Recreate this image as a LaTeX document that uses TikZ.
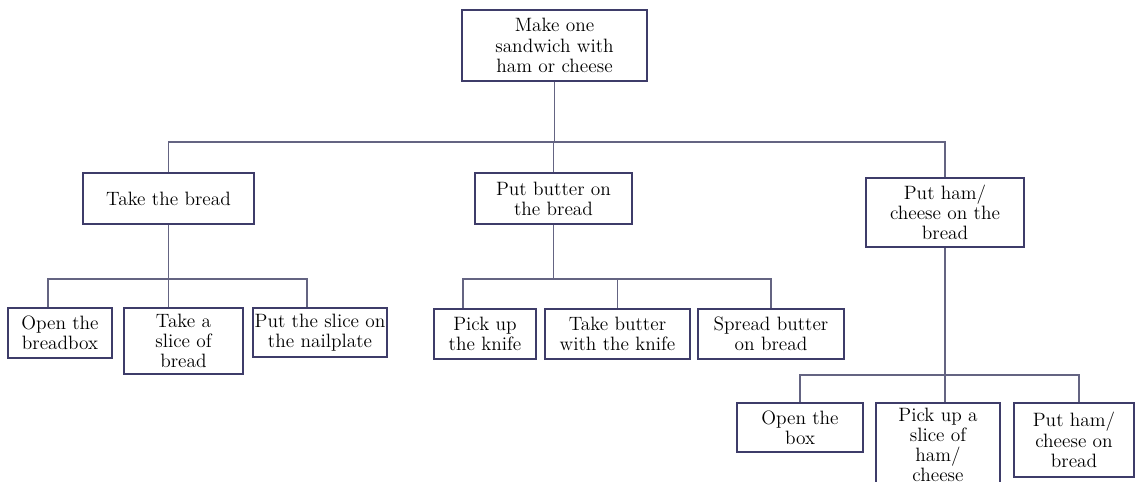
\documentclass[tikz,border=0pt]{standalone}
\usepackage{tikz}
\usetikzlibrary{positioning,calc}
\definecolor{boxline}{RGB}{62,60,105}
\definecolor{treeline}{RGB}{100,100,130}

\begin{document}
\begin{tikzpicture}[x=0.02cm, y=-0.02cm, font=\fontsize{11}{11.5}\selectfont]
    \tikzstyle{task}=[draw=boxline, line width=1.4pt, fill=white, align=center, inner sep=1pt]
    \tikzstyle{link}=[draw=treeline, line width=0.7pt]
    \tikzset{wh/.style 2 args={minimum width=#1*0.02cm, minimum height=#2*0.02cm}}

    \useasboundingbox (0,0) rectangle (1136,482);
    \clip (0,0) rectangle (1136,482);

    % Draw the main task
    \node[task, wh={185}{71}] (main) at (554.5,45.5) {Make one\\sandwich with\\ham or cheese};

    % Draw the sub tasks
    \node[task, wh={171}{51}] (bread) at (168.5,198.5) {Take the bread};
    \node[task, wh={157}{51}] (butter) at (553.5,198.5) {Put butter on\\the bread};
    \node[task, wh={158}{69}] (ham) at (945,212.5) {Put ham/\\cheese on the\\bread};

    % Draw the steps under each sub task
    \node[task, wh={104}{50}] (obb) at (60,333) {Open the\\breadbox};
    \node[task, wh={119}{66}] (slice) at (183.5,341) {Take a\\slice of\\bread};
    \node[task, wh={130}{49}] (nail) at (320,332.5) {Put the slice on\\the nailplate};

    \node[task, wh={102}{50}] (knife) at (485,334) {Pick up\\the knife};
    \node[task, wh={145}{50}] (take) at (617.5,334) {Take butter\\with the knife};
    \node[task, wh={146}{50}] (spread) at (771,334) {Spread butter\\on bread};

    \node[task, wh={126}{49}] (box) at (800,427.5) {Open the\\box};
    \node[task, wh={124}{84}] (pick) at (938,445) {Pick up a\\slice of\\ham/\\cheese};
    \node[task, wh={120}{74}] (put) at (1074,440) {Put ham/\\cheese on\\bread};

    % Heights of the horizontal bars
    \coordinate (bar0) at (0,142);
    \coordinate (bar1) at (0,279);
    \coordinate (bar3) at (0,375);

    % Connect the main task with the sub tasks
    \draw[link] (main.south) -- (main.south |- bar0);
    \foreach \c in {bread,butter,ham}
        \draw[link] (\c.north) |- (main.south |- bar0);

    % Connect every sub task with its steps
    \draw[link] (bread.south) -- (bread.south |- bar1);
    \foreach \c/\dx in {obb/-12, slice/-15, nail/-13}
        \draw[link] ([xshift=\dx*0.02cm]\c.north) |- (bread.south |- bar1);

    \draw[link] (butter.south) -- (butter.south |- bar1);
    \foreach \c/\dx in {knife/-22, take/0, spread/0}
        \draw[link] ([xshift=\dx*0.02cm]\c.north) |- (butter.south |- bar1);

    \draw[link] (ham.south) -- (ham.south |- bar3);
    \foreach \c/\dx in {box/0, pick/7, put/5}
        \draw[link] ([xshift=\dx*0.02cm]\c.north) |- (ham.south |- bar3);
\end{tikzpicture}
\end{document}
